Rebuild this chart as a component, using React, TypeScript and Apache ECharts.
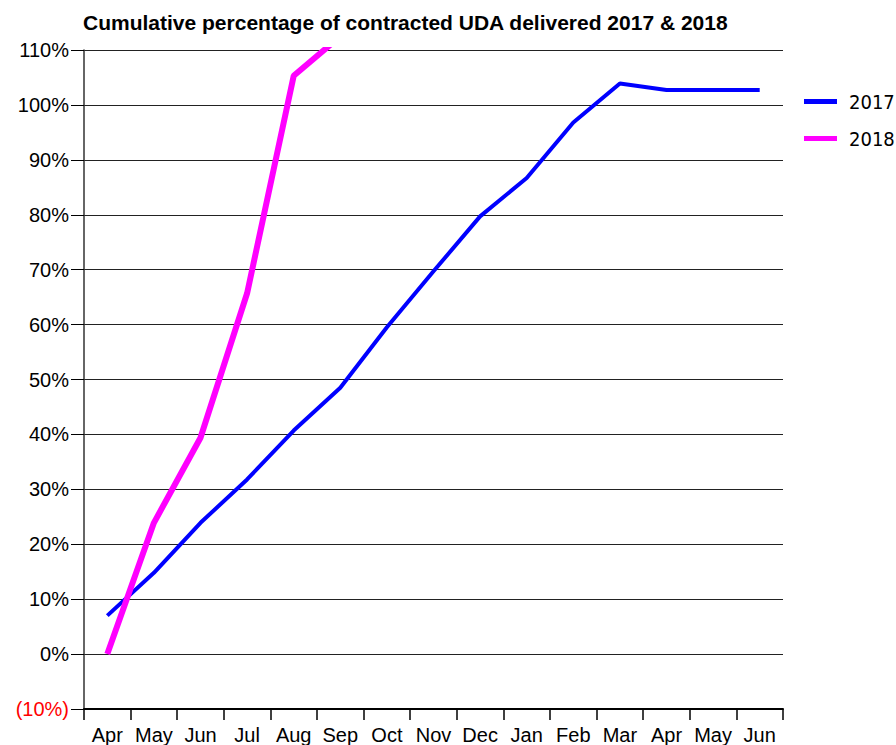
import React, { useEffect, useRef } from "react";
import * as echarts from "echarts";

const months = ["Apr", "May", "Jun", "Jul", "Aug", "Sep", "Oct", "Nov", "Dec", "Jan", "Feb", "Mar", "Apr", "May", "Jun"];
const series2017 = [7.0, 14.8, 23.9, 31.8, 40.7, 48.5, 59.5, 69.7, 79.7, 86.7, 96.8, 103.9, 102.7, 102.7, 102.7];
const series2018 = [0, 23.9, 39.4, 65.7, 105.3, 112.5];
const yMin = -10;
const yMax = 110;
const yStep = 10;

export default function App() {
  const ref = useRef<HTMLDivElement>(null);
  useEffect(() => {
    if (!ref.current) return;
    const chart = echarts.init(ref.current, null, { renderer: "svg" });
    chart.setOption({
      animation: false,
      backgroundColor: "#ffffff",
      title: {
        text: "Cumulative percentage of contracted UDA delivered 2017 & 2018",
        left: 78,
        top: 7,
        textStyle: { fontFamily: "Liberation Sans", fontWeight: "bold", fontSize: 21, color: "#000" },
      },
      legend: {
        orient: "vertical",
        left: 799,
        top: 86,
        itemWidth: 33,
        itemHeight: 5,
        itemGap: 16,
        icon: "rect",
        textStyle: { fontFamily: "DejaVu Sans Condensed", fontSize: 20, lineHeight: 21, color: "#000", padding: [0, 0, 0, 7] },
        data: ["2017", "2018"],
      },
      grid: { left: 84, right: 113, top: 50, bottom: 36, containLabel: false },
      xAxis: {
        type: "category",
        data: months,
        boundaryGap: true,
        axisLine: { onZero: false, lineStyle: { color: "#000", width: 2 } },
        axisTick: { show: true, length: 11, lineStyle: { color: "#000", width: 1.5 } },
        axisLabel: { interval: 0, fontFamily: "Liberation Sans", fontSize: 20, color: "#000", margin: 16 },
        splitLine: { show: false },
      },
      yAxis: {
        type: "value",
        min: yMin,
        max: yMax,
        interval: yStep,
        axisLine: { show: true, lineStyle: { color: "#333", width: 1.5 } },
        axisTick: { show: true, inside: false, length: 13, lineStyle: { color: "#000", width: 1 } },
        axisLabel: {
          fontFamily: "Liberation Sans",
          fontSize: 20,
          color: "#000",
          margin: 15,
          formatter: (v: number) => (v < 0 ? "{neg|(" + Math.abs(v) + "%)}" : v + "%"),
          rich: { neg: { color: "#ff0000", fontFamily: "Liberation Sans", fontSize: 20 } },
        },
        splitLine: { show: true, lineStyle: { color: "#222", width: 1.2 } },
      },
      series: [
        {
          name: "2017",
          type: "line",
          data: series2017,
          showSymbol: false,
          clip: true,
          color: "#0000ff",
          lineStyle: { color: "#0000ff", width: 4 },
        },
        {
          name: "2018",
          type: "line",
          data: series2018,
          showSymbol: false,
          clip: true,
          color: "#ff00ff",
          lineStyle: { color: "#ff00ff", width: 6 },
        },
      ],
    });
    return () => chart.dispose();
  }, []);
  return <div ref={ref} style={{ width: 896, height: 745, position: "absolute", left: 0, top: 0 }} />;
}
